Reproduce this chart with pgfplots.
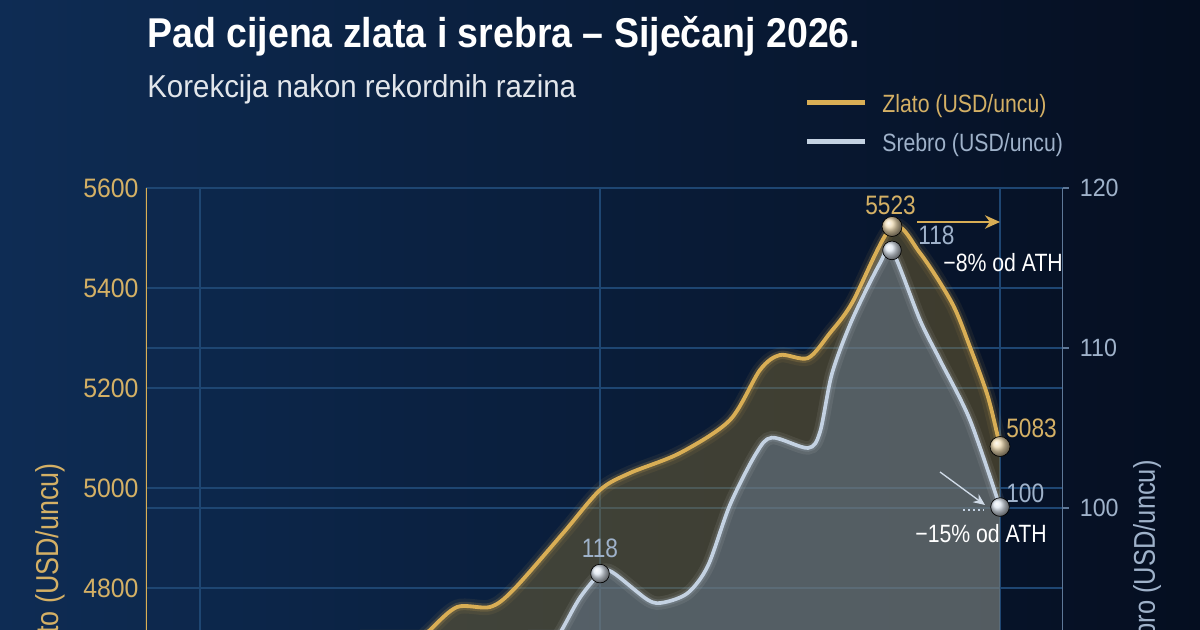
\documentclass[border=0pt]{standalone}
\usepackage{fontspec}
\setmainfont{Liberation Sans}[FakeStretch=0.93]
\newfontfamily\cf{Liberation Sans}[FakeStretch=0.85]
\newfontfamily\tf{Liberation Sans}[FakeStretch=0.9]
\usepackage{pgfplots}
\pgfplotsset{compat=1.18}
\usetikzlibrary{arrows.meta}

\definecolor{bgA}{HTML}{0E2C54}
\definecolor{bgB}{HTML}{050E20}
\definecolor{gridc}{HTML}{1E4672}
\definecolor{gold}{HTML}{D9AE55}
\definecolor{goldtxt}{HTML}{D4B065}
\definecolor{silv}{HTML}{C4D2E2}
\definecolor{silvtxt}{HTML}{9FB2CA}
\definecolor{silvfill}{HTML}{6A7E96}
\definecolor{goldfill}{HTML}{8C7434}
\definecolor{raxis}{HTML}{5E7898}

% gold (USD/oz), x = position along January
\pgfplotstableread{
x     y
4.0   4560
5.0   4655
5.75  4716
6.43  4762
7.25  4762
7.83  4796
9.08  4910
10.0  4996
10.75 5030
12.0  5070
13.25 5136
14.0  5236
14.5  5266
15.2  5260
15.75 5310
16.3  5370
17.3  5523
18.0  5470
18.8  5370
19.25 5282
19.7  5182
20.0  5083
}\gold

% silver (USD/oz)
\pgfplotstableread{
x     y
8.2   88.0
8.6   90.5
9.05  92.4
9.5   94.4
10.0  95.9
10.3  96.0
11.2  94.25
11.6  94.1
12.2  94.7
12.7  96.4
13.25 100.2
13.9  103.4
14.3  104.4
15.2  103.75
15.5  104.75
15.8  108.4
16.3  111.75
17.0  115.3
17.3  116.1
18.0  111.75
18.5  109.25
19.25 105.5
20.0  100.06
}\silver

\begin{document}
\begin{tikzpicture}[x=0.6pt,y=0.6pt]
\useasboundingbox (0,0) rectangle (1200,630);
\begin{scope}
\clip (0,0) rectangle (1200,630);
\shade[left color=bgA, right color=bgB] (0,0) rectangle (1200,630);

\begin{axis}[
    at={(87.6pt,0pt)}, anchor=south west,
    width=550.2pt, height=265.2pt, scale only axis,
    xmin=-1.35, xmax=21.575, ymin=4716, ymax=5600,
    axis line style={draw=none},
    xtick={0,10,20}, xticklabels={},
    ytick={4800,5000,5200,5400,5600},
    extra y ticks={4960,5280}, extra y tick labels={},
    grid=major,
    major grid style={gridc, line width=0.8pt},
    major tick length=0pt,
    /pgf/number format/assume math mode=true,
    /pgf/number format/1000 sep={},
    yticklabel style={font=\fontsize{16}{16}\selectfont, text=goldtxt, xshift=-1pt},
]
\addplot[draw=none, fill=goldfill, fill opacity=0.42, smooth, tension=0.5] table {\gold} \closedcycle;
\addplot[gold, line width=9pt, opacity=0.08, smooth, tension=0.5] table {\gold};
\addplot[gold, line width=5pt, opacity=0.18, smooth, tension=0.5] table {\gold};
\addplot[gold, line width=2.3pt, smooth, tension=0.5] table {\gold};
\draw[gold, line width=1pt] (rel axis cs:0,0) -- (rel axis cs:0,1);
\end{axis}

\begin{axis}[
    at={(87.6pt,0pt)}, anchor=south west,
    width=550.2pt, height=265.2pt, scale only axis,
    xmin=-1.35, xmax=21.575, ymin=92.375, ymax=120,
    axis line style={draw=none},
    xtick=\empty,
    ytick={100,110,120},
    ytick pos=right, yticklabel pos=right,
    tick align=outside,
    major tick length=3.6pt,
    major tick style={raxis, line width=0.8pt},
    /pgf/number format/assume math mode=true,
    yticklabel style={font=\fontsize{15}{15}\selectfont, text=silvtxt, xshift=3pt},
]
\addplot[draw=none, fill=silvfill, fill opacity=0.5, smooth, tension=0.5] table {\silver} \closedcycle;
\addplot[white, line width=8pt, opacity=0.07, smooth, tension=0.5] table {\silver};
\addplot[silv, line width=4.5pt, opacity=0.15, smooth, tension=0.5] table {\silver};
\addplot[silv, line width=2.2pt, smooth, tension=0.5] table {\silver};
\draw[raxis, line width=1pt] (rel axis cs:1,0) -- (rel axis cs:1,1);
\end{axis}

% markers on the same axes
\begin{axis}[
    at={(87.6pt,0pt)}, anchor=south west,
    width=550.2pt, height=265.2pt, scale only axis,
    xmin=-1.35, xmax=21.575, ymin=4716, ymax=5600,
    hide axis, clip=false,
]
\addplot[only marks, mark=ball, mark size=6pt, mark options={ball color=gold!45!white}] coordinates {(17.3,5523) (20,5083)};
\end{axis}
\begin{axis}[
    at={(87.6pt,0pt)}, anchor=south west,
    width=550.2pt, height=265.2pt, scale only axis,
    xmin=-1.35, xmax=21.575, ymin=92.375, ymax=120,
    hide axis, clip=false,
]
\addplot[only marks, mark=ball, mark size=5.6pt, mark options={ball color=silv!60!white}] coordinates {(10,95.9) (17.3,116.1) (20,100.06)};
\end{axis}

% titles
\node[anchor=base west, inner sep=0, text=white] at (147,582)
  {\tf\bfseries\fontsize{25}{28}\selectfont Pad cijena zlata i srebra – Siječanj 2026.};
\node[anchor=base west, inner sep=0, text=white!88!bgA] at (147,532)
  {\fontsize{19}{22}\selectfont Korekcija nakon rekordnih razina};

% legend
\draw[gold, line width=3pt] (807,527) -- (865,527);
\node[anchor=base west, inner sep=0, text=goldtxt] at (882,517) {\cf\fontsize{15}{18}\selectfont Zlato (USD/uncu)};
\draw[silv, line width=3pt] (807,488) -- (865,488);
\node[anchor=base west, inner sep=0, text=silvtxt] at (882,478) {\cf\fontsize{15}{18}\selectfont Srebro (USD/uncu)};

% axis labels
\node[rotate=90, anchor=east, inner sep=0, text=goldtxt] at (50,167) {\cf\fontsize{19}{22}\selectfont Zlato (USD/uncu)};
\node[rotate=90, anchor=east, inner sep=0, text=silvtxt] at (1147,170) {\cf\fontsize{18}{21}\selectfont Srebro (USD/uncu)};

% annotations
\node[anchor=base west, inner sep=0, text=goldtxt] at (865,415) {\cf\fontsize{16}{18}\selectfont 5523};
\node[anchor=base west, inner sep=0, text=silvtxt] at (918,385) {\cf\fontsize{16}{18}\selectfont 118};
\node[anchor=base west, inner sep=0, text=white] at (943,358) {\cf\fontsize{15}{18}\selectfont −8\% od ATH};
\draw[gold, line width=1.5pt, -{Stealth[length=9pt,width=8pt]}] (917,408) -- (1000,408);
\node[anchor=base west, inner sep=0, text=goldtxt] at (1006,192) {\cf\fontsize{16}{18}\selectfont 5083};
\node[anchor=base west, inner sep=0, text=silvtxt] at (1006,127) {\cf\fontsize{16}{18}\selectfont 100};
\node[anchor=base west, inner sep=0, text=white] at (915,87) {\cf\fontsize{15}{18}\selectfont −15\% od ATH};
\draw[silv!80!white, line width=0.8pt, -{Stealth[length=7pt,width=6pt]}] (940,158) -- (985,125);
\draw[silv, line width=1pt, dotted] (963,120) -- (984,120);
\node[anchor=base, inner sep=0, text=silvtxt] at (600,72) {\cf\fontsize{16}{18}\selectfont 118};
\end{scope}
\end{tikzpicture}
\end{document}
